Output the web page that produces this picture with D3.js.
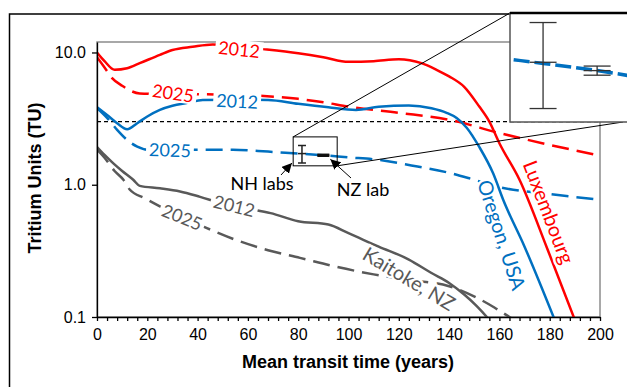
<!DOCTYPE html>
<html>
<head>
<meta charset="utf-8">
<script src="https://cdn.jsdelivr.net/npm/d3@7"></script>
<style>
  body { margin: 0; background: #fff; }
  svg { display: block; }
</style>
</head>
<body>
<svg id="chart" width="627" height="387"></svg>
<script>
// --- data (years, TU) ---
const luxYears2012 = [0, 3, 7, 12, 17, 25, 30, 38, 46, 56, 66, 80, 90, 100, 110, 120, 129, 135, 140, 146, 152, 156, 160, 168, 179, 190];
const luxTU2012    = [10.0, 8.6, 7.4, 7.6, 8.3, 9.6, 10.45, 11.05, 11.5, 11.1, 10.6, 9.85, 9.2, 8.5, 8.6, 8.9, 8.3, 7.4, 6.6, 5.5, 3.9, 3.0, 2.06, 1.09, 0.33, 0.095];
const luxYears2025 = [0, 3, 6, 10, 17, 25, 38, 50, 65, 80, 90, 100, 120, 140, 160, 180, 200];
const luxTU2025    = [9.2, 7.7, 6.4, 5.6, 4.9, 4.85, 4.84, 4.8, 4.7, 4.46, 4.2, 3.9, 3.5, 3.1, 2.46, 2.0, 1.66];

const oreYears2012 = [0, 4, 8, 12, 16, 20, 25, 30, 36, 42, 55, 68, 80, 92, 103, 112, 124, 133, 139, 143, 147, 152, 157.5, 161.5, 170, 182];
const oreTU2012    = [3.86, 3.37, 2.92, 2.63, 2.92, 3.28, 3.68, 3.95, 4.16, 4.38, 4.4, 4.38, 4.09, 3.85, 3.68, 3.89, 3.98, 3.79, 3.5, 3.2, 2.7, 1.93, 1.22, 0.77, 0.34, 0.095];
const oreYears2025 = [0, 4, 8, 12, 16, 20, 29, 38, 54, 68, 78, 90, 100, 111, 125, 140, 150, 160, 180, 200];
const oreTU2025    = [3.8, 3.2, 2.6, 2.18, 1.94, 1.84, 1.83, 1.84, 1.84, 1.78, 1.73, 1.67, 1.61, 1.55, 1.4, 1.23, 1.09, 0.96, 0.85, 0.77];

const kaiYears2012 = [0, 3, 6.5, 10, 14.4, 17, 25, 33, 41, 50, 60, 69, 80, 92, 100, 112, 124, 133, 140, 146, 151, 155, 158];
const kaiTU2012    = [1.93, 1.68, 1.45, 1.27, 1.09, 0.98, 0.94, 0.89, 0.81, 0.72, 0.66, 0.61, 0.53, 0.5, 0.43, 0.34, 0.272, 0.215, 0.181, 0.148, 0.121, 0.1, 0.085];
const kaiYears2025 = [0, 3, 7, 10.5, 13, 19, 25, 34, 43.7, 57, 68, 80.7, 95, 110, 125, 140, 151, 158, 164, 167];
const kaiTU2025    = [1.85, 1.6, 1.27, 1.09, 0.92, 0.79, 0.686, 0.57, 0.47, 0.372, 0.32, 0.28, 0.24, 0.21, 0.19, 0.171, 0.14, 0.118, 0.1, 0.092];

// lab measurements: [years, TU, low, high]
const nhLab = [81.5, 1.72, 1.46, 1.98];
const nzLab = [90, 1.67, 1.643, 1.697];
const thresholdTU = 3;

const xTickLabels = [0, 20, 40, 60, 80, 100, 120, 140, 160, 180, 200];
const yTickLabels = [0.1, 1, 10];

const red = "#ff0000", blue = "#0070c0", gray = "#595959";
const dashed = "17,8";

const svg = d3.select("#chart");
const x = d3.scaleLinear().domain([0, 200]).range([97, 600]);
const y = d3.scaleLog().domain([0.1, 12]).range([317, 42]);

const zip = (a, b) => a.map((v, i) => [v, b[i]]);
const series = [
  { pts: zip(luxYears2012, luxTU2012), color: red, dash: null },
  { pts: zip(luxYears2025, luxTU2025), color: red, dash: dashed },
  { pts: zip(oreYears2012, oreTU2012), color: blue, dash: null },
  { pts: zip(oreYears2025, oreTU2025), color: blue, dash: dashed },
  { pts: zip(kaiYears2012, kaiTU2012), color: gray, dash: null },
  { pts: zip(kaiYears2025, kaiTU2025), color: gray, dash: dashed }
];

const defs = svg.append("defs");
defs.append("clipPath").attr("id", "plotClip")
  .append("rect").attr("x", 97).attr("y", 42).attr("width", 503).attr("height", 275);
defs.append("clipPath").attr("id", "insetClip")
  .append("rect").attr("x", 510).attr("y", 13).attr("width", 140).attr("height", 109);
defs.append("marker").attr("id", "arrow")
  .attr("viewBox", "0 0 10 10").attr("refX", 10).attr("refY", 5)
  .attr("markerWidth", 10).attr("markerHeight", 10)
  .attr("markerUnits", "userSpaceOnUse").attr("orient", "auto")
  .append("path").attr("d", "M0,0 L10,5 L0,10 z").attr("fill", "#000");

// outer frame
svg.append("rect").attr("x", 9.5).attr("y", 14).attr("width", 700).attr("height", 500)
  .attr("fill", "none").attr("stroke", "#000").attr("stroke-width", 1.5);

// plot frame (grey)
svg.append("rect").attr("x", 97).attr("y", 42).attr("width", 503).attr("height", 275)
  .attr("fill", "none").attr("stroke", "#8c8c8c").attr("stroke-width", 1.5);

const plot = svg.append("g").attr("clip-path", "url(#plotClip)");

// 3 TU line
plot.append("line")
  .attr("x1", x(0)).attr("x2", x(200))
  .attr("y1", y(thresholdTU)).attr("y2", y(thresholdTU))
  .attr("stroke", "#000").attr("stroke-width", 1.2).attr("stroke-dasharray", "4,3");

const line = d3.line().x(d => x(d[0])).y(d => y(d[1])).curve(d3.curveMonotoneX);

plot.selectAll("path.series")
  .data(series)
  .enter().append("path")
  .attr("class", "series")
  .attr("d", d => line(d.pts))
  .attr("fill", "none")
  .attr("stroke", d => d.color)
  .attr("stroke-width", 2.5)
  .attr("stroke-dasharray", d => d.dash);

// curve labels
function label(txt, t, tu, angle, color, size, mode) {
  const g = svg.append("g").attr("transform", `translate(${x(t)},${y(tu)}) rotate(${angle})`);
  const text = g.append("text")
    .attr("text-anchor", "middle").attr("dy", "0.35em")
    .style("font-family", "Lato").style("font-size", size + "px")
    .attr("fill", color).text(txt);
  if (mode === "box") {
    const b = text.node().getBBox();
    g.insert("rect", "text")
      .attr("x", b.x - 3).attr("y", b.y + 2)
      .attr("width", b.width + 6).attr("height", b.height - 4)
      .attr("fill", "#fff");
  } else if (mode === "halo") {
    text.attr("stroke", "#fff").attr("stroke-width", 5).attr("paint-order", "stroke");
  }
}

label("2012", 56.5, 10.5, 6, red, 18, "box");
label("2025", 30.2, 4.9, 8, red, 18, "box");
label("2012", 55.7, 4.26, 3, blue, 18, "box");
label("2025", 29, 1.82, 2, blue, 18, "box");
label("2012", 54.5, 0.69, 14, gray, 18, "box");
label("2025", 33.8, 0.566, 22, gray, 18, "box");
label("Kaitoke, NZ", 124, 0.194, 31, gray, 20, "halo");
label("Oregon, USA", 160.8, 0.417, 72, blue, 20, "halo");
label("Luxembourg", 179.5, 0.62, 69, red, 20, "halo");

// error bars
function errorBar(g, xs, ys, d, cap, width, color) {
  const cx = xs(d[0]);
  g.append("line").attr("x1", cx).attr("x2", cx).attr("y1", ys(d[2])).attr("y2", ys(d[3]))
    .attr("stroke", color).attr("stroke-width", width);
  [d[1], d[2], d[3]].forEach(v => {
    g.append("line").attr("x1", cx - cap).attr("x2", cx + cap).attr("y1", ys(v)).attr("y2", ys(v))
      .attr("stroke", color).attr("stroke-width", width);
  });
}
const marks = svg.append("g");
errorBar(marks, x, y, nhLab, 4, 1.5, "#222");
errorBar(marks, x, y, nzLab, 6, 1.6, "#111");

// zoom box and connectors
const boxYears = [78, 95.5], boxTU = [1.39, 2.3];
svg.append("rect")
  .attr("x", x(boxYears[0])).attr("y", y(boxTU[1]))
  .attr("width", x(boxYears[1]) - x(boxYears[0])).attr("height", y(boxTU[0]) - y(boxTU[1]))
  .attr("fill", "none").attr("stroke", "#000").attr("stroke-width", 1);
svg.append("line").attr("x1", x(boxYears[0])).attr("y1", y(boxTU[1])).attr("x2", 510).attr("y2", 13)
  .attr("stroke", "#000").attr("stroke-width", 1);
svg.append("line").attr("x1", x(boxYears[1])).attr("y1", y(boxTU[0])).attr("x2", 623).attr("y2", 122)
  .attr("stroke", "#000").attr("stroke-width", 1);

// lab labels + arrows
label("NH labs", 65.6, 1.014, 0, "#000", 18, null);
label("NZ lab", 105.8, 0.921, 0, "#000", 18, null);
svg.append("line").attr("x1", 281).attr("y1", 175).attr("x2", x(nhLab[0]) - 10).attr("y2", y(nhLab[2]))
  .attr("stroke", "#000").attr("stroke-width", 1).attr("marker-end", "url(#arrow)");
svg.append("line").attr("x1", 351).attr("y1", 178).attr("x2", x(nzLab[0]) + 7).attr("y2", y(nzLab[1]) + 4)
  .attr("stroke", "#000").attr("stroke-width", 1).attr("marker-end", "url(#arrow)");

// inset (zoomed view)
const ix = d3.scaleLinear().domain([76.3, 94.7]).range([510, 627]);
const iy = d3.scaleLog().domain([1.392, 2.048]).range([122, 13]);
svg.append("rect").attr("x", 510).attr("y", 13).attr("width", 140).attr("height", 109)
  .attr("fill", "#fff").attr("stroke", "#555").attr("stroke-width", 1.5);
const inset = svg.append("g").attr("clip-path", "url(#insetClip)");
inset.append("path")
  .attr("d", d3.line().x(d => ix(d[0])).y(d => iy(d[1])).curve(d3.curveMonotoneX)(series[3].pts))
  .attr("fill", "none").attr("stroke", blue).attr("stroke-width", 3.5).attr("stroke-dasharray", "16,5");
errorBar(inset, ix, iy, nhLab, 13.5, 1.3, "#333");
errorBar(inset, ix, iy, nzLab, 13.5, 1.3, "#333");
svg.append("line").attr("x1", 510).attr("x2", 627).attr("y1", 13).attr("y2", 13)
  .attr("stroke", "#000").attr("stroke-width", 2.5);

// axes
const xAxis = svg.append("g").attr("transform", "translate(0,317)")
  .call(d3.axisBottom(x)
    .tickValues(d3.range(0, 201, 4))
    .tickFormat(d => xTickLabels.includes(d) ? d : "")
    .tickSize(4).tickSizeOuter(0));
const yAxis = svg.append("g").attr("transform", "translate(97,0)")
  .call(d3.axisLeft(y)
    .tickValues(yTickLabels)
    .tickFormat(d3.format(".1f"))
    .tickSize(5).tickSizeOuter(0));
[xAxis, yAxis].forEach(a => {
  a.selectAll("path, line").attr("stroke", "#000").attr("stroke-width", 1.3);
  a.selectAll("text").attr("fill", "#000")
    .style("font-family", "Liberation Sans, Arial, sans-serif").style("font-size", "16px");
});
xAxis.selectAll("text").attr("y", 12);
yAxis.selectAll("text").attr("x", -11);

// axis titles
svg.append("text").attr("x", 348).attr("y", 368).attr("text-anchor", "middle")
  .style("font-family", "Liberation Sans, Arial, sans-serif").style("font-size", "18px")
  .style("font-weight", "bold").text("Mean transit time (years)");
svg.append("text").attr("transform", "translate(41,178) rotate(-90)").attr("text-anchor", "middle")
  .style("font-family", "Liberation Sans, Arial, sans-serif").style("font-size", "18px")
  .style("font-weight", "bold").text("Tritium Units (TU)");
</script>
</body>
</html>
